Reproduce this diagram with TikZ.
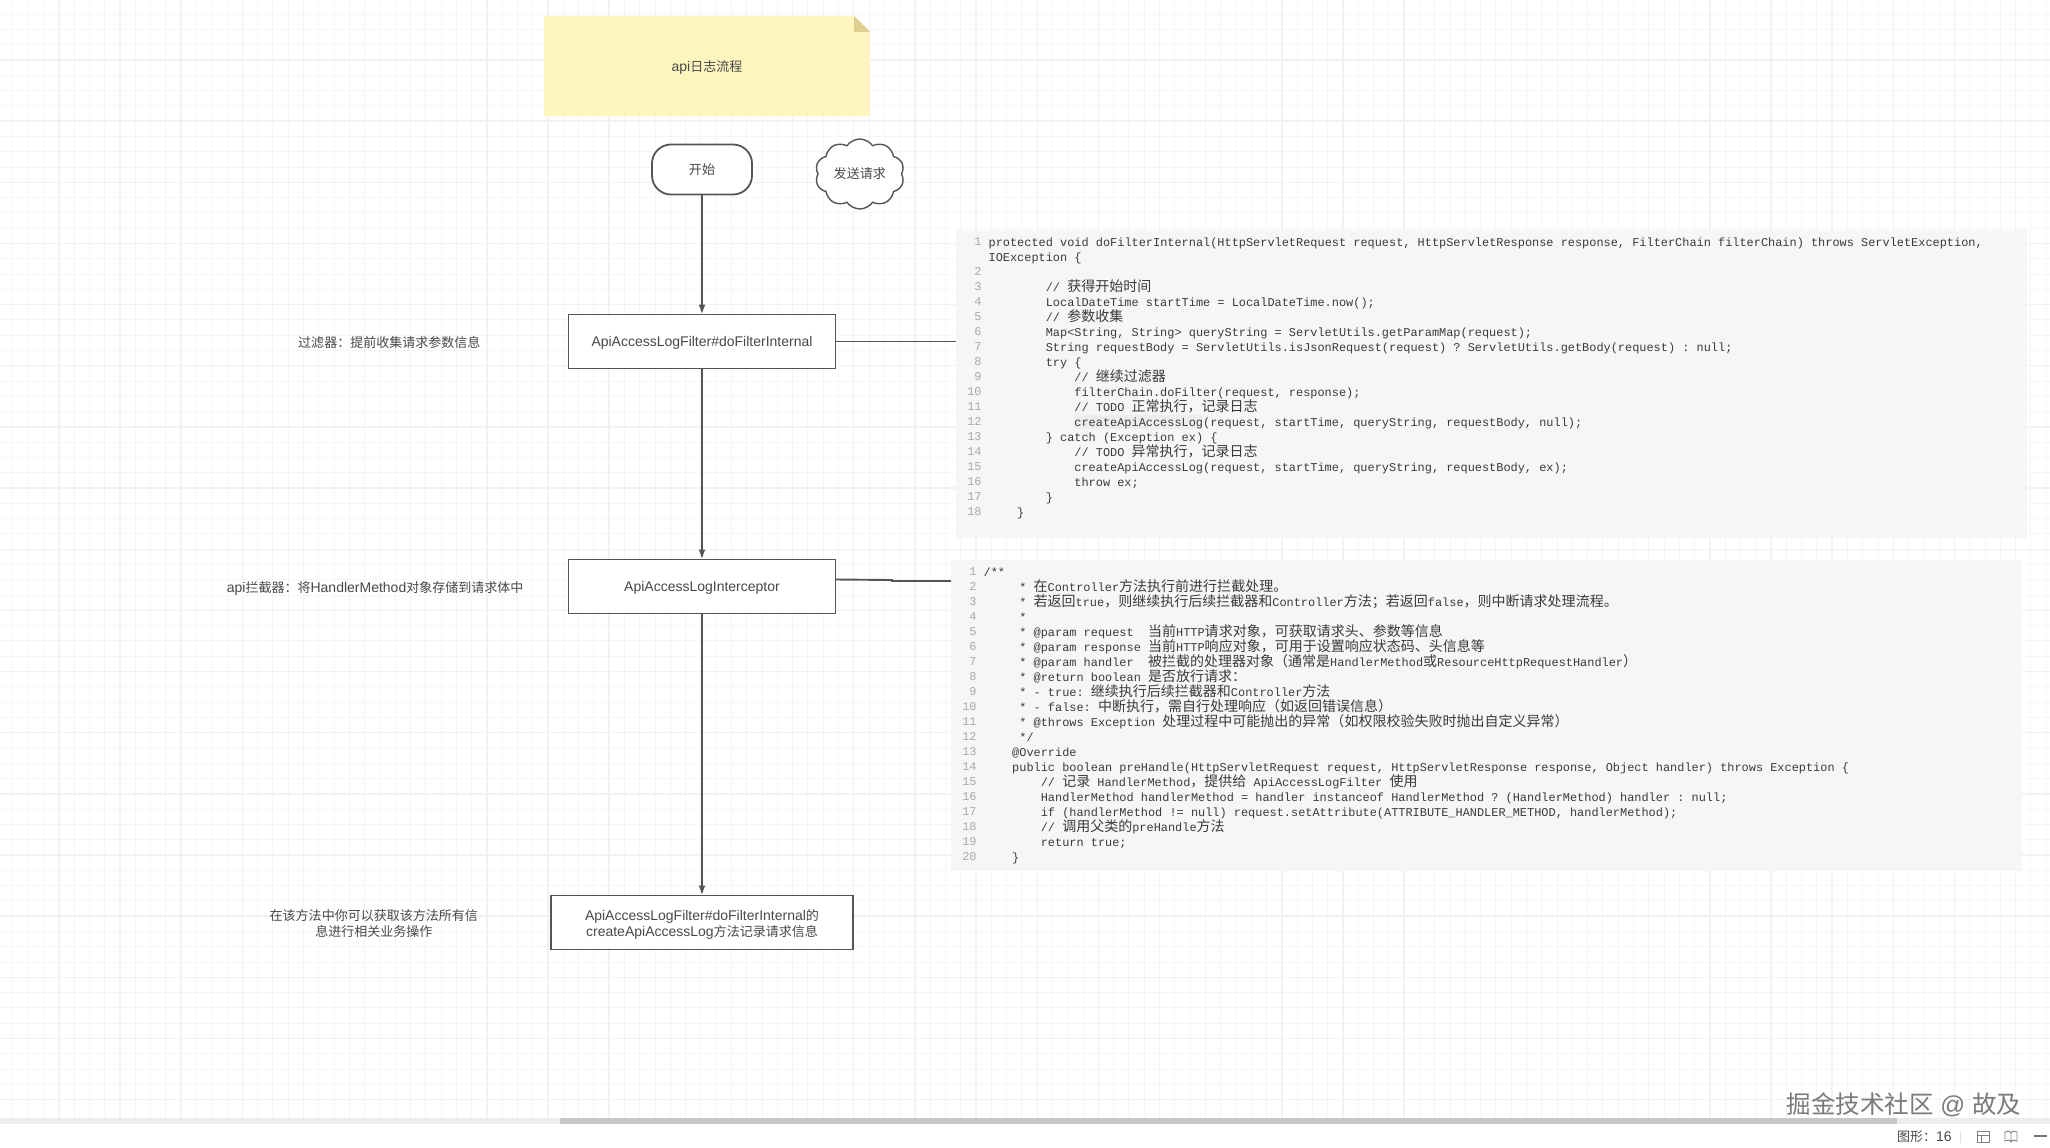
\documentclass[tikz,border=0pt]{standalone}
\usepackage{fontspec}
\setmainfont{Liberation Sans}
\setmonofont{Liberation Mono}
\newfontfamily\zhfont[Scale=0.93]{Noto Sans CJK SC}
\newfontfamily\zhcodefont[Scale=1.175]{Noto Sans CJK SC}
\newcommand{\zh}[1]{{\zhfont #1}}
\newcommand{\zc}[1]{{\zhcodefont #1}}
\newlength{\cw}
\setlength{\cw}{7.15pt}
\newcommand{\ind}[1]{\hspace*{#1\cw}}
\usetikzlibrary{positioning,arrows.meta,shapes.symbols}
\definecolor{inkline}{HTML}{555555}
\definecolor{inktext}{HTML}{484848}
\definecolor{codeback}{HTML}{F5F6F8}
\definecolor{codeink}{HTML}{3A3A3A}
\definecolor{numink}{HTML}{A8A8A8}
\definecolor{notefill}{HTML}{FFF5BE}
\definecolor{notefold}{HTML}{DFCF8E}
\begin{document}
\begin{tikzpicture}[
x=1pt, y=-1pt,
every node/.style={outer sep=0pt},
flowbox/.style={draw=inkline, line width=1.8pt, fill=white, text=inktext, align=center, minimum height=54pt, inner sep=0pt, text depth=0pt, font=\fontsize{14}{16}\selectfont},
startbox/.style={flowbox, rounded corners=19pt, minimum width=100pt, minimum height=50pt},
sidenote/.style={text=inktext, align=center, inner sep=0pt, text depth=0pt, font=\fontsize{14}{16}\selectfont},
cloudnote/.style={shape=cloud, cloud puffs=10, cloud puff arc=110, aspect=1.3, draw=inkline, line width=1.4pt, fill=white, text=inktext, inner sep=0pt, minimum width=89pt, minimum height=70pt, font=\fontsize{14}{16}\selectfont},
codepanel/.style={fill=codeback, inner sep=0pt, minimum width=1071pt},
codetext/.style={text=codeink, align=left, inner sep=0pt, font=\fontsize{11.92}{15}\ttfamily\selectfont},
codenum/.style={text=numink, align=right, inner sep=0pt, font=\fontsize{11.92}{15}\ttfamily\selectfont},
arrow/.style={-{Latex[length=10pt,width=7pt]}, line width=1.9pt, inkline},
link/.style={line width=1.9pt, inkline},
gridminor/.style={line width=0.9pt, black!4},
gridmajor/.style={line width=1.4pt, black!5}
]
\useasboundingbox (0,0) rectangle (2050,1148);
\fill[white] (0,0) rectangle (2050,1148);
% grid
\foreach \i in {0,...,134} \draw[gridminor] ({\i*15.2875-2.35},0) -- ++(0,1118);
\foreach \i in {0,...,72} \draw[gridminor] (0,{\i*15.2875-1.15}) -- ++(2050,0);
\foreach \i in {0,...,34} \draw[gridmajor] ({\i*61.15-2.35},0) -- ++(0,1118);
\foreach \i in {0,...,18} \draw[gridmajor] (0,{\i*61.15-1.15}) -- ++(2050,0);

% title note
\fill[notefill] (544,16) -- (854,16) -- (870,32) -- (870,116) -- (544,116) -- cycle;
\fill[notefold] (854,16) -- (870,32) -- (854,32) -- cycle;
\node[sidenote] (title) at (707,66) {api\zh{日志流程}};

% flow
\node[startbox] (start) at (702,169.5) {\zh{开始}};
\node[cloudnote, right=66pt of start, yshift=-4.5pt] (request) {\zh{发送请求}};
\node[flowbox, minimum width=267pt, below=120pt of start] (filter) {ApiAccessLogFilter\#doFilterInternal};
\node[flowbox, minimum width=267pt, below=191pt of filter] (interceptor) {ApiAccessLogInterceptor};
\node[flowbox, minimum width=302pt, below=282pt of interceptor] (logger) {ApiAccessLogFilter\#doFilterInternal\zh{的}\\createApiAccessLog\zh{方法记录请求信息}};
\node[sidenote, left=88pt of filter] (filterNote) {\zh{过滤器：提前收集请求参数信息}};
\node[sidenote, left=45pt of interceptor] (interceptorNote) {api\zh{拦截器：将}HandlerMethod\zh{对象存储到请求体中}};
\node[sidenote, left=73pt of logger] (loggerNote) {\zh{在该方法中你可以获取该方法所有信}\\\zh{息进行相关业务操作}};

% code panels
\node[codepanel, minimum height=308pt, anchor=north west] (codeFilter) at (956,230) {};
\node[codepanel, minimum height=310pt, anchor=north west] (codeInterceptor) at (951,560) {};
\fill[black!7] (1074,415) rectangle (1202,429);
\node[codenum, anchor=north east] (numFilter) at ([shift={(25.6pt,-7.4pt)}]codeFilter.north west) {1\\~\\2\\3\\4\\5\\6\\7\\8\\9\\10\\11\\12\\13\\14\\15\\16\\17\\18};
\node[codetext, anchor=north west] (textFilter) at ([shift={(32.6pt,-7.4pt)}]codeFilter.north west) {%
protected void doFilterInternal(HttpServletRequest request, HttpServletResponse response, FilterChain filterChain) throws ServletException,\\
IOException \{\\
~\\
\ind{8}// \zc{获得开始时间}\\
\ind{8}LocalDateTime startTime = LocalDateTime.now();\\
\ind{8}// \zc{参数收集}\\
\ind{8}Map<String, String> queryString = ServletUtils.getParamMap(request);\\
\ind{8}String requestBody = ServletUtils.isJsonRequest(request) ? ServletUtils.getBody(request) : null;\\
\ind{8}try \{\\
\ind{12}// \zc{继续过滤器}\\
\ind{12}filterChain.doFilter(request, response);\\
\ind{12}// TODO \zc{正常执行，记录日志}\\
\ind{12}createApiAccessLog(request, startTime, queryString, requestBody, null);\\
\ind{8}\} catch (Exception ex) \{\\
\ind{12}// TODO \zc{异常执行，记录日志}\\
\ind{12}createApiAccessLog(request, startTime, queryString, requestBody, ex);\\
\ind{12}throw ex;\\
\ind{8}\}\\
\ind{4}\}};
\node[codenum, anchor=north east] (numInterceptor) at ([shift={(25.6pt,-7.4pt)}]codeInterceptor.north west) {1\\2\\3\\4\\5\\6\\7\\8\\9\\10\\11\\12\\13\\14\\15\\16\\17\\18\\19\\20};
\node[codetext, anchor=north west] (textInterceptor) at ([shift={(32.6pt,-7.4pt)}]codeInterceptor.north west) {%
/**\\
\ind{5}* \zc{在}Controller\zc{方法执行前进行拦截处理。}\\
\ind{5}* \zc{若返回}true\zc{，则继续执行后续拦截器和}Controller\zc{方法；若返回}false\zc{，则中断请求处理流程。}\\
\ind{5}*\\
\ind{5}* @param request\ \ \zc{当前}HTTP\zc{请求对象，可获取请求头、参数等信息}\\
\ind{5}* @param response \zc{当前}HTTP\zc{响应对象，可用于设置响应状态码、头信息等}\\
\ind{5}* @param handler\ \ \zc{被拦截的处理器对象（通常是}HandlerMethod\zc{或}ResourceHttpRequestHandler\zc{）}\\
\ind{5}* @return boolean \zc{是否放行请求：}\\
\ind{5}* - true: \zc{继续执行后续拦截器和}Controller\zc{方法}\\
\ind{5}* - false: \zc{中断执行，需自行处理响应（如返回错误信息）}\\
\ind{5}* @throws Exception \zc{处理过程中可能抛出的异常（如权限校验失败时抛出自定义异常）}\\
\ind{5}*/\\
\ind{4}@Override\\
\ind{4}public boolean preHandle(HttpServletRequest request, HttpServletResponse response, Object handler) throws Exception \{\\
\ind{8}// \zc{记录} HandlerMethod\zc{，提供给} ApiAccessLogFilter \zc{使用}\\
\ind{8}HandlerMethod handlerMethod = handler instanceof HandlerMethod ? (HandlerMethod) handler : null;\\
\ind{8}if (handlerMethod != null) request.setAttribute(ATTRIBUTE\_HANDLER\_METHOD, handlerMethod);\\
\ind{8}// \zc{调用父类的}preHandle\zc{方法}\\
\ind{8}return true;\\
\ind{4}\}};

% connectors
\coordinate (interceptorTap) at ([yshift=7pt]interceptor.east);
\coordinate (interceptorJog) at (892,580);
\coordinate (codeTap) at (951,581);
\draw[arrow] (start) -- (filter);
\draw[arrow] (filter) -- (interceptor);
\draw[arrow] (interceptor) -- (logger);
\draw[link] (filter.east) -- (filter.east -| codeFilter.west);
\draw[link] (interceptorTap) -- (interceptorJog) -- (interceptorJog |- codeTap) -- (codeTap);

% scrollbar, watermark, status bar
\fill[black!7] (0,1118) rectangle (2050,1124);
\fill[black!22] (560,1118) rectangle (1897,1124);
\node[text=black!52, inner sep=0pt, anchor=east, font=\fontsize{24.5}{28}\selectfont] (watermark) at (2021,1105) {{\fontspec{Noto Sans CJK SC}掘金技术社区} @ {\fontspec{Noto Sans CJK SC}故及}};
\node[text=inktext, inner sep=0pt, anchor=west, font=\fontsize{14}{16}\selectfont] (status) at (1897,1137) {\zh{图形：}16};
\draw[black!12, line width=0.8pt] (1960,1131) -- (1960,1143);
\draw[black!50, line width=0.9pt] (1977,1131) rectangle (1989,1142) (1977,1135) -- (1989,1135) (1981,1135) -- (1981,1142);
\draw[black!50, line width=0.9pt] (2005,1132) -- (2009,1131) -- (2011,1133) -- (2013,1131) -- (2017,1132) -- (2017,1141) -- (2013,1140) -- (2011,1142) -- (2009,1140) -- (2005,1141) -- cycle (2011,1133) -- (2011,1142);
\draw[black!55, line width=1.2pt] (2034,1136) -- (2047,1136);
\end{tikzpicture}
\end{document}
